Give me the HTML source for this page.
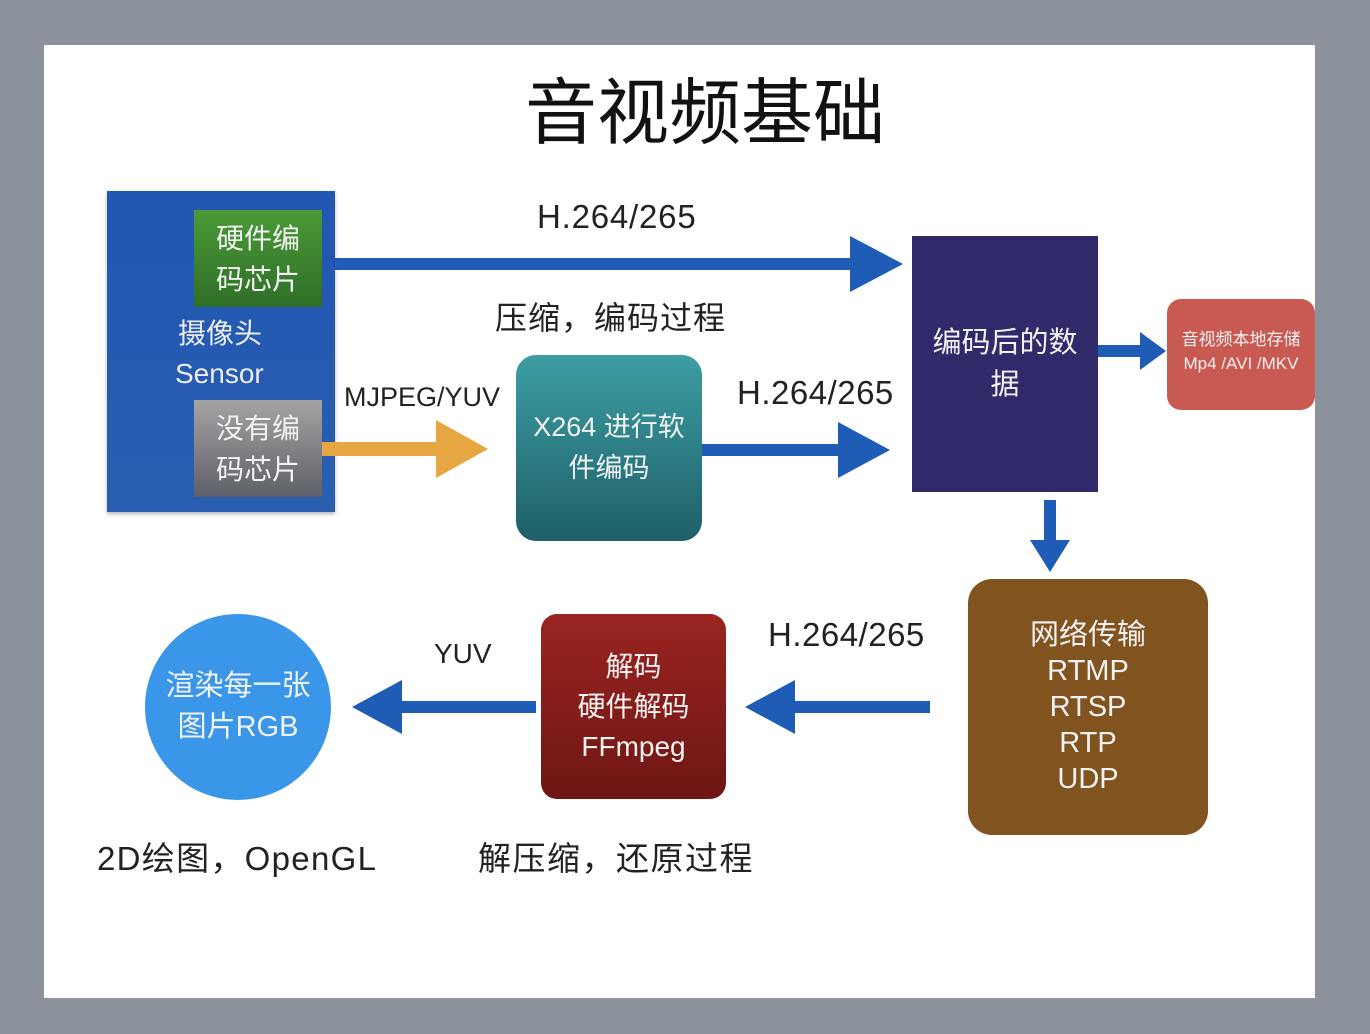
<!DOCTYPE html>
<html><head><meta charset="utf-8"><style>
body{margin:0;width:1370px;height:1034px;background:#8d939c;position:relative;overflow:hidden;font-family:"Liberation Sans","Noto Sans CJK SC",sans-serif}
.a{position:absolute}
.slide{left:44px;top:45px;width:1271px;height:953px;background:#fff}
.t{position:absolute;white-space:nowrap;color:#222}
.c{display:flex;align-items:center;justify-content:center;text-align:center;color:#f2f2f2}
</style></head><body>
<div class="a slide"></div>
<div class="t" style="left:0;width:1410px;text-align:center;top:54px;font-size:72px;color:#111">音视频基础</div>

<div class="a" style="left:107px;top:191px;width:228px;height:321px;background:linear-gradient(#2157b3,#2a5eb0);box-shadow:0 2px 4px rgba(0,0,0,.3)"></div>
<div class="a c" style="left:194px;top:210px;width:128px;height:97px;background:linear-gradient(#4a9a36,#2f6e28);font-size:28px;line-height:41px">硬件编<br>码芯片</div>
<div class="a c" style="left:194px;top:400px;width:128px;height:97px;background:linear-gradient(#a4a4a4,#5e6068);font-size:28px;line-height:41px">没有编<br>码芯片</div>
<div class="t" style="left:178px;top:314px;font-size:28px;line-height:40px;color:#eee">摄像头<br><span style="margin-left:-3px">Sensor</span></div>

<div class="a c" style="left:516px;top:355px;width:186px;height:186px;border-radius:20px;background:linear-gradient(#3c9ea3,#1f5f68);font-size:27px;line-height:41px">X264 进行软<br>件编码</div>
<div class="a c" style="left:912px;top:236px;width:186px;height:256px;background:#302a6b;font-size:29px;line-height:42px;padding-bottom:0px;box-sizing:border-box;padding-top:0">编码后的数<br>据</div>
<div class="a c" style="left:1167px;top:299px;width:148px;height:111px;border-radius:14px;background:#c95a52;font-size:17px;line-height:24px;padding-bottom:6px;box-sizing:border-box">音视频本地存储<br>Mp4 /AVI /MKV</div>
<div class="a c" style="left:968px;top:579px;width:240px;height:256px;border-radius:24px;background:#80531f;font-size:29px;line-height:36px">网络传输<br>RTMP<br>RTSP<br>RTP<br>UDP</div>
<div class="a c" style="left:541px;top:614px;width:185px;height:185px;border-radius:16px;background:linear-gradient(#9a2420,#6e1614);font-size:28px;line-height:40px">解码<br>硬件解码<br>FFmpeg</div>
<div class="a c" style="left:145px;top:614px;width:186px;height:186px;border-radius:50%;background:#3a96e8;font-size:29px;line-height:41px">渲染每一张<br>图片RGB</div>

<svg class="a" style="left:0;top:0" width="1370" height="1034">
<g fill="#1f5cb5">
<rect x="335" y="258" width="520" height="12"/><polygon points="850,236 903,264 850,292"/>
<rect x="702" y="444" width="140" height="12"/><polygon points="838,422 890,450 838,478"/>
<rect x="1098" y="345" width="46" height="12"/><polygon points="1140,332 1166,351 1140,370"/>
<rect x="1044" y="500" width="12" height="44"/><polygon points="1030,540 1070,540 1050,572"/>
<rect x="790" y="701" width="140" height="12"/><polygon points="795,680 745,707 795,734"/>
<rect x="397" y="701" width="139" height="12"/><polygon points="402,680 352,707 402,734"/>
</g>
<g fill="#e6a742"><rect x="322" y="442" width="118" height="14"/><polygon points="436,420 488,449 436,478"/></g>
</svg>

<div class="t" style="left:537px;top:198px;font-size:33px;letter-spacing:0.8px">H.264/265</div>
<div class="t" style="left:495px;top:293px;font-size:32px;letter-spacing:1px">压缩，编码过程</div>
<div class="t" style="left:344px;top:382px;font-size:27px">MJPEG/YUV</div>
<div class="t" style="left:737px;top:374px;font-size:33px;letter-spacing:0.5px">H.264/265</div>
<div class="t" style="left:768px;top:616px;font-size:33px;letter-spacing:0.5px">H.264/265</div>
<div class="t" style="left:434px;top:638px;font-size:28px">YUV</div>
<div class="t" style="left:97px;top:832px;font-size:33px;letter-spacing:1.3px">2D绘图，OpenGL</div>
<div class="t" style="left:478px;top:832px;font-size:33px;letter-spacing:1.5px">解压缩，还原过程</div>
</body></html>
